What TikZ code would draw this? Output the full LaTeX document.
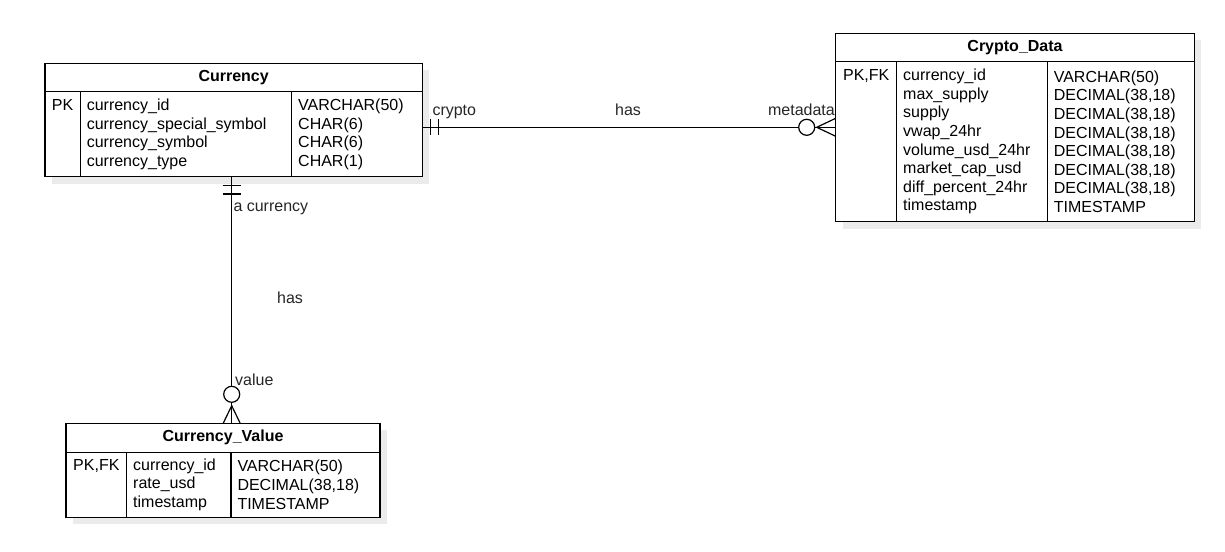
\documentclass[tikz,border=0pt]{standalone}
\usepackage{fontspec}
\setmainfont{Liberation Sans}
\usetikzlibrary{backgrounds,calc}

\begin{document}
\begin{tikzpicture}[
  x=1pt, y=-1pt,
  font=\fontsize{16}{18.6}\selectfont,
  tblhead/.style={draw, fill=white, anchor=north west, outer sep=0pt, inner sep=0pt,
    line width=1.2pt, font=\fontsize{16}{18.6}\selectfont\bfseries},
  tblkey/.style={draw, fill=white, anchor=north west, outer sep=0pt, inner xsep=6pt,
    inner ysep=0pt, line width=1.2pt, align=center, text height=18.6pt},
  tblcell/.style={draw, fill=white, anchor=north west, outer sep=0pt, inner xsep=6.5pt,
    inner ysep=0pt, line width=1.2pt, align=left},
  shade/.style={fill=black!8},
  rel/.style={line width=1.2pt, draw=black},
  lbl/.style={inner sep=0pt, text=black!85}
]

% Page frame in pixels of the reference.
\useasboundingbox (0,0) rectangle (1225,551);

% Currency table.
\node[tblhead, minimum width=377.3pt, minimum height=28.4pt] (cur) at (45,63.3) {Currency};
\node[tblkey, text width=23.3pt, text depth=66.4pt] (cur-key) at (cur.south west) {PK};
\node[tblcell, text width=198.4pt, minimum height=85pt] (cur-field) at (cur-key.north east)
  {currency\_id\\currency\_special\_symbol\\currency\_symbol\\currency\_type};
\node[tblcell, text width=117.6pt, minimum height=85pt] (cur-type) at (cur-field.north east)
  {VARCHAR(50)\\CHAR(6)\\CHAR(6)\\CHAR(1)};

% Crypto_Data table.
\node[tblhead, minimum width=358.6pt, minimum height=28.4pt] (cd) at (835.7,33.3) {Crypto\_Data};
\node[tblkey, text width=49pt, text depth=141.4pt] (cd-key) at (cd.south west) {PK,FK};
\node[tblcell, text width=137.6pt, minimum height=160pt] (cd-field) at (cd-key.north east)
  {currency\_id\\max\_supply\\supply\\vwap\_24hr\\volume\_usd\_24hr\\market\_cap\_usd\\diff\_percent\_24hr\\timestamp};
\node[tblcell, text width=134pt, minimum height=160pt] (cd-type) at (cd-field.north east)
  {VARCHAR(50)\\DECIMAL(38,18)\\DECIMAL(38,18)\\DECIMAL(38,18)\\DECIMAL(38,18)\\DECIMAL(38,18)\\DECIMAL(38,18)\\TIMESTAMP};

% Currency_Value table.
\node[tblhead, minimum width=314pt, minimum height=29pt] (cv) at (66,423.3) {Currency\_Value};
\node[tblkey, text width=48.7pt, text depth=46.4pt] (cv-key) at (cv.south west) {PK,FK};
\node[tblcell, text width=91.3pt, minimum height=65pt] (cv-field) at (cv-key.north east)
  {currency\_id\\rate\_usd\\timestamp};
\node[tblcell, text width=136pt, minimum height=65pt] (cv-type) at (cv-field.north east)
  {VARCHAR(50)\\DECIMAL(38,18)\\TIMESTAMP};

% Shadows.
\begin{scope}[on background layer]
  \fill[shade] ([shift={(7,7)}]cur.north west) rectangle ([shift={(7,7)}]cur-type.south east);
  \fill[shade] ([shift={(7,7)}]cd.north west) rectangle ([shift={(7,7)}]cd-type.south east);
  \fill[shade] ([shift={(7,7)}]cv.north west) rectangle ([shift={(7,7)}]cv-type.south east);
\end{scope}

% Relationship Currency -- Crypto_Data.
\coordinate (row1) at (0,127.3);
\coordinate (a1) at (cur-type.east |- row1);
\coordinate (b1) at (cd-key.west |- row1);
\draw[rel] (a1) -- ($(b1)+(-37,0)$);
\draw[rel] ($(a1)+(8.4,-8)$) -- ++(0,16);
\draw[rel] ($(a1)+(16,-8)$) -- ++(0,16);
\draw[rel] ($(b1)+(-29,0)$) circle[radius=8];
\draw[rel] ($(b1)+(0,-9)$) -- ($(b1)+(-19,0)$) -- ($(b1)+(0,9)$);
\draw[rel] ($(b1)+(-21,0)$) -- (b1);

% Relationship Currency -- Currency_Value.
\coordinate (col1) at (231.7,0);
\coordinate (a2) at (cur-field.south -| col1);
\coordinate (b2) at (cv.north -| col1);
\draw[rel] (a2) -- ($(b2)+(0,-37)$);
\draw[rel] ($(a2)+(-9,9)$) -- ++(18,0);
\draw[rel] ($(a2)+(-9,17.3)$) -- ++(18,0);
\draw[rel] ($(b2)+(0,-29)$) circle[radius=8];
\draw[rel] ($(b2)+(-8.5,0)$) -- ($(b2)+(0,-17.6)$) -- ($(b2)+(8.5,0)$);
\draw[rel] ($(b2)+(0,-21)$) -- (b2);

% Relationship labels.
\node[lbl, anchor=base west] (crypto) at (432.3,115) {crypto};
\node[lbl, anchor=base] (has1) at (628,115) {has};
\node[lbl, anchor=base east] (metadata) at (835,115) {metadata};
\node[lbl, anchor=base west] (acur) at (233.3,211.7) {a currency};
\node[lbl, anchor=base] (has2) at (290,303.3) {has};
\node[lbl, anchor=base west] (value) at (235,385) {value};

\end{tikzpicture}
\end{document}
